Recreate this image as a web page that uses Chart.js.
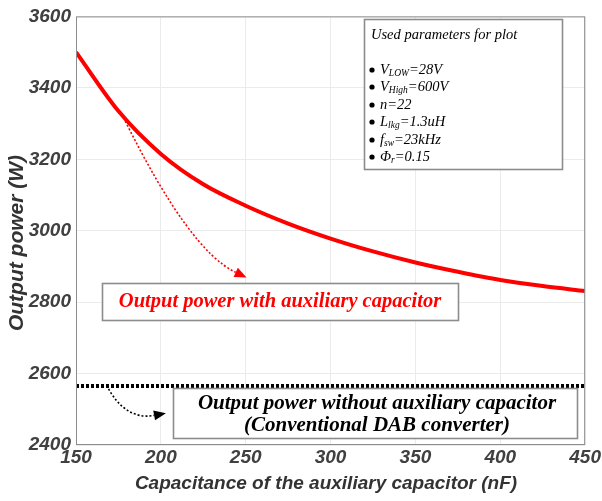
<!DOCTYPE html>
<html>
<head>
<meta charset="utf-8">
<script src="https://cdn.jsdelivr.net/npm/chart.js@4/dist/chart.umd.min.js"></script>
<style>
  html, body { margin: 0; padding: 0; background: #fff; }
  #wrap { width: 602px; height: 501px; }
</style>
</head>
<body>
<div id="wrap"><canvas id="myChart" width="602" height="501"></canvas></div>
<script>
// values
var capacitance = [150, 175, 200, 225, 250, 275, 300, 325, 350, 375, 400, 425, 450];
var powerWithAux = [3500, 3335, 3215, 3130, 3070, 3020, 2978, 2942, 2911, 2885, 2862, 2845, 2831];
var powerWithoutAux = [2565, 2565, 2565, 2565, 2565, 2565, 2565, 2565, 2565, 2565, 2565, 2565, 2565];
var xTicks = [150, 200, 250, 300, 350, 400, 450];
var yTicks = [2400, 2600, 2800, 3000, 3200, 3400, 3600];
var xTitle = 'Capacitance of the auxiliary capacitor (nF)';
var yTitle = 'Output power (W)';

var tickFont = { family: 'Liberation Sans, Arial', size: 19, weight: 'bold', style: 'italic' };

function toPoints(xs, ys) {
    return xs.map(function (x, i) { return { x: x, y: ys[i] }; });
}

// arrows given in data units: start, control, end
var arrows = [
    { from: [179, 3307], ctrl: [217, 2944], to: [250.5, 2869], color: 'rgb(255,0,0)', width: 1.6 },
    { from: [168, 2567], ctrl: [179, 2468], to: [203, 2489], color: '#000', width: 1.6 }
];

function drawSubText(c, x, y, parts) {
    // parts: [text, isSub]
    parts.forEach(function (p) {
        if (p[1]) {
            c.font = 'italic 9.5px "Liberation Serif"';
            c.fillText(p[0], x, y + 3);
        } else {
            c.font = 'italic 14.5px "Liberation Serif"';
            c.fillText(p[0], x, y);
        }
        x += c.measureText(p[0]).width;
    });
}

var annotations = {
    id: 'annotations',
    afterDraw: function (chart) {
        var c = chart.ctx;
        var a = chart.chartArea;
        var xs = chart.scales.x, ys = chart.scales.y;
        c.save();

        // plot box
        c.strokeStyle = '#8c8c8c';
        c.lineWidth = 1;
        c.strokeRect(a.left + 0.5, a.top + 0.5, a.right - a.left - 1, a.bottom - a.top - 1);

        // axis titles
        c.fillStyle = '#333';
        c.textAlign = 'center';
        c.textBaseline = 'middle';
        c.font = 'italic bold 19px "Liberation Sans"';
        c.fillText(xTitle, 326, 484);
        c.save();
        c.translate(17, 243);
        c.rotate(-Math.PI / 2);
        c.font = 'italic bold 21px "Liberation Sans"';
        c.fillText(yTitle, 0, 0);
        c.restore();

        // arrows
        arrows.forEach(function (ar) {
            var x0 = xs.getPixelForValue(ar.from[0]), y0 = ys.getPixelForValue(ar.from[1]);
            var cx = xs.getPixelForValue(ar.ctrl[0]), cy = ys.getPixelForValue(ar.ctrl[1]);
            var x1 = xs.getPixelForValue(ar.to[0]), y1 = ys.getPixelForValue(ar.to[1]);
            var ang = Math.atan2(y1 - cy, x1 - cx);
            var len = 12;
            var bx = x1 - len * Math.cos(ang), by = y1 - len * Math.sin(ang);
            c.strokeStyle = ar.color;
            c.lineWidth = ar.width;
            c.setLineDash([2, 2]);
            c.beginPath();
            c.moveTo(x0, y0);
            c.quadraticCurveTo(cx, cy, bx, by);
            c.stroke();
            c.setLineDash([]);
            c.fillStyle = ar.color;
            c.beginPath();
            c.moveTo(x1, y1);
            c.lineTo(bx + 5 * Math.sin(ang), by - 5 * Math.cos(ang));
            c.lineTo(bx - 5 * Math.sin(ang), by + 5 * Math.cos(ang));
            c.closePath();
            c.fill();
        });

        // parameter box
        c.fillStyle = '#fff';
        c.fillRect(364, 19, 198, 150);
        c.strokeStyle = '#8c8c8c';
        c.strokeRect(364.5, 19.5, 198, 150);
        c.fillStyle = '#000';
        c.textAlign = 'left';
        c.font = 'italic 14.5px "Liberation Serif"';
        c.fillText('Used parameters for plot', 371, 35);
        var lines = [
            [['V', 0], ['LOW', 1], ['=28V', 0]],
            [['V', 0], ['High', 1], ['=600V', 0]],
            [['n=22', 0]],
            [['L', 0], ['lkg', 1], ['=1.3uH', 0]],
            [['f', 0], ['sw', 1], ['=23kHz', 0]],
            [['\u03A6', 0], ['r', 1], ['=0.15', 0]]
        ];
        var ly = [70, 87, 105, 122, 140, 157];
        lines.forEach(function (ln, i) {
            c.beginPath();
            c.arc(372, ly[i], 2.6, 0, Math.PI * 2);
            c.fill();
            drawSubText(c, 380, ly[i], ln);
        });

        // red label box
        c.fillStyle = '#fff';
        c.fillRect(102, 283, 356, 37);
        c.strokeStyle = '#8c8c8c';
        c.strokeRect(102.5, 283.5, 356, 37);
        c.fillStyle = 'rgb(255,0,0)';
        c.textAlign = 'center';
        c.font = 'italic bold 20.5px "Liberation Serif"';
        c.fillText('Output power with auxiliary capacitor', 280, 302);

        // black label box
        c.fillStyle = '#fff';
        c.fillRect(173, 388, 404, 50);
        c.strokeStyle = '#8c8c8c';
        c.strokeRect(173.5, 388.5, 404, 50);
        c.fillStyle = '#000';
        c.font = 'italic bold 21px "Liberation Serif"';
        c.fillText('Output power without auxiliary capacitor', 377, 404);
        c.fillText('(Conventional DAB converter)', 377, 426);

        c.restore();
    }
};

var ctx = document.getElementById('myChart');
var myChart = new Chart(ctx, {
    type: 'line',
    data: {
        datasets: [
            {
                label: 'Output power with auxiliary capacitor',
                data: toPoints(capacitance, powerWithAux),
                borderColor: 'rgb(255,0,0)',
                borderWidth: 4,
                pointRadius: 0,
                cubicInterpolationMode: 'monotone'
            },
            {
                label: 'Output power without auxiliary capacitor',
                data: toPoints(capacitance, powerWithoutAux),
                borderColor: '#000',
                borderWidth: 4,
                borderDash: [3, 2],
                borderCapStyle: 'butt',
                pointRadius: 0
            }
        ]
    },
    options: {
        responsive: false,
        animation: false,
        layout: { padding: { top: 15, right: 16, left: 0, bottom: 0 } },
        plugins: {
            legend: { display: false },
            tooltip: { enabled: false }
        },
        scales: {
            x: {
                type: 'linear',
                min: 150,
                max: 450,
                afterBuildTicks: function (s) { s.ticks = xTicks.map(function (v) { return { value: v }; }); },
                afterFit: function (s) { s.height = 56; },
                ticks: {
                    font: tickFont, color: '#404040', padding: 1, maxRotation: 0,
                    callback: function (v) { return String(v); }
                },
                grid: { color: '#ebebeb', drawTicks: false },
                border: { display: false }
            },
            y: {
                min: 2400,
                max: 3600,
                afterBuildTicks: function (s) { s.ticks = yTicks.map(function (v) { return { value: v }; }); },
                afterFit: function (s) { s.width = 76; },
                ticks: {
                    font: tickFont, color: '#404040', padding: 5,
                    callback: function (v) { return String(v); }
                },
                grid: { color: '#ebebeb', drawTicks: false },
                border: { display: false }
            }
        }
    },
    plugins: [annotations]
});
</script>
</body>
</html>
